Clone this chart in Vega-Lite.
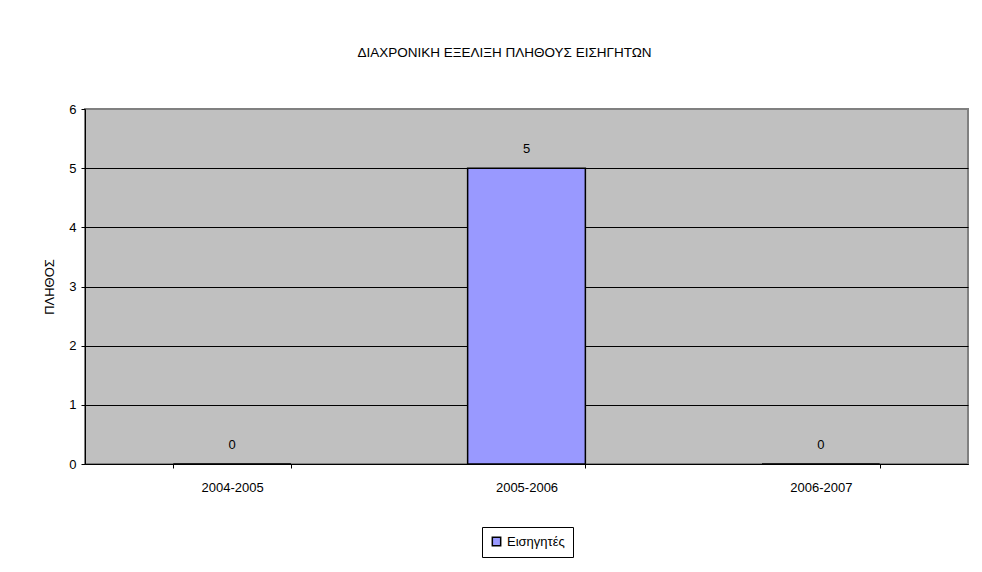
{
  "$schema": "https://vega.github.io/schema/vega-lite/v6.json",
  "autosize": "none",
  "width": 883,
  "height": 355,
  "padding": {"left": 85, "top": 109, "right": 14, "bottom": 108},
  "background": "white",
  "config": {
    "font": "Liberation Sans",
    "view": {"fill": "#C0C0C0", "stroke": "#808080", "strokeWidth": 2}
  },
  "title": {
    "text": "ΔΙΑΧΡΟΝΙΚΗ ΕΞΕΛΙΞΗ ΠΛΗΘΟΥΣ ΕΙΣΗΓΗΤΩΝ",
    "fontSize": 13.5,
    "fontWeight": "normal",
    "color": "black",
    "anchor": "middle",
    "dx": -22,
    "offset": 44
  },
  "data": {
    "values": [
      {"period": "2004-2005", "value": 0, "series": "Εισηγητές"},
      {"period": "2005-2006", "value": 5, "series": "Εισηγητές"},
      {"period": "2006-2007", "value": 0, "series": "Εισηγητές"}
    ]
  },
  "encoding": {
    "x": {
      "field": "period",
      "type": "nominal",
      "scale": {"paddingInner": 0.6, "paddingOuter": 0.3},
      "axis": {
        "title": null,
        "labelAngle": 0,
        "labelFontSize": 13,
        "labelColor": "black",
        "domainColor": "black",
        "tickColor": "black",
        "tickSize": 4,
        "tickBand": "extent",
        "labelPadding": 13,
        "grid": false
      }
    },
    "y": {
      "field": "value",
      "type": "quantitative",
      "scale": {"domain": [0, 6], "nice": false},
      "axis": {
        "title": "ΠΛΗΘΟΣ",
        "titleFontSize": 13,
        "titleFontWeight": "normal",
        "titleColor": "black",
        "titlePadding": 12,
        "values": [0, 1, 2, 3, 4, 5, 6],
        "labelFontSize": 13,
        "labelColor": "black",
        "labelPadding": 5,
        "domainColor": "black",
        "tickColor": "black",
        "tickSize": 4,
        "grid": true,
        "gridColor": {"condition": {"test": "datum.value == 6", "value": "#808080"}, "value": "black"},
        "gridOpacity": 1
      }
    }
  },
  "layer": [
    {
      "mark": {"type": "bar", "stroke": "black", "strokeWidth": 1.5},
      "encoding": {
        "color": {
          "field": "series",
          "type": "nominal",
          "scale": {"range": ["#9999FF"]},
          "legend": {
            "title": null,
            "orient": "none",
            "legendX": 397,
            "legendY": 418,
            "strokeColor": "black",
            "fillColor": "white",
            "padding": 8,
            "symbolType": "square",
            "symbolSize": 70,
            "symbolStrokeColor": "black",
            "symbolStrokeWidth": 1.5,
            "symbolOpacity": 1,
            "labelFontSize": 13,
            "labelColor": "black"
          }
        }
      }
    },
    {
      "mark": {"type": "text", "dy": -19, "fontSize": 13, "color": "black"},
      "encoding": {"text": {"field": "value", "type": "quantitative"}}
    }
  ]
}
